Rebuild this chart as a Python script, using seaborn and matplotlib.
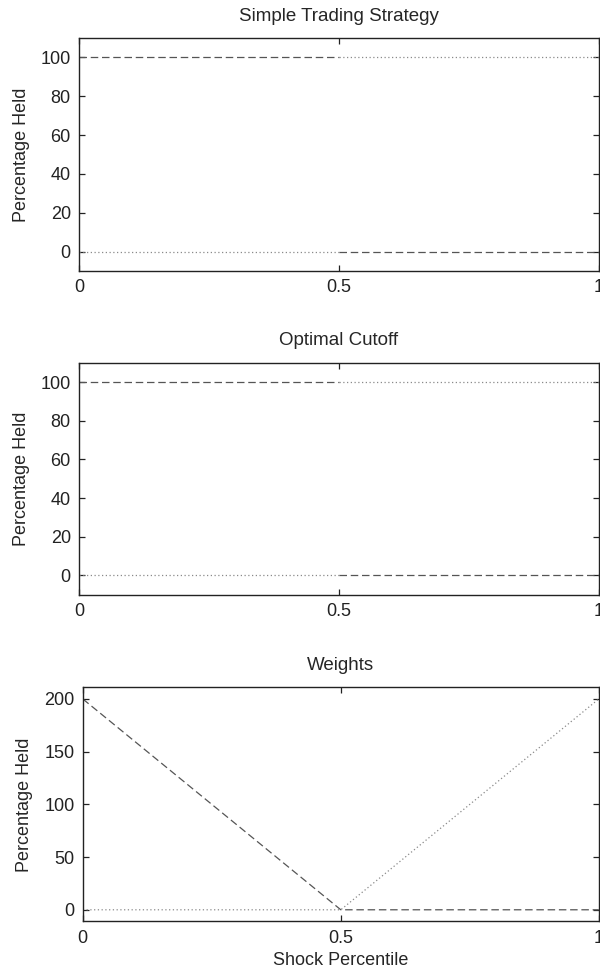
import matplotlib
matplotlib.use("Agg")
import matplotlib.pyplot as plt
import seaborn as sns
import pandas as pd
import numpy as np

# ---- data ----
shock = [0.0, 0.5, 0.5, 1.0]
segment = [0, 0, 1, 1]
simple_dashed = [100, 100, 0, 0]
simple_dotted = [0, 0, 100, 100]
cutoff_dashed = [100, 100, 0, 0]
cutoff_dotted = [0, 0, 100, 100]
weights_x = [0.0, 0.5, 1.0]
weights_dashed = [200, 0, 0]
weights_dotted = [0, 0, 200]

titles = ["Simple Trading Strategy", "Optimal Cutoff", "Weights"]
ylabel = "Percentage Held"
xlabel = "Shock Percentile"
xticks = [0, 0.5, 1]
xticklabels = ["0", "0.5", "1"]
yticks_top = [0, 20, 40, 60, 80, 100]
yticks_bottom = [0, 50, 100, 150, 200]

sns.set_style("ticks")
plt.rcParams["font.family"] = ["Liberation Sans", "DejaVu Sans"]
plt.rcParams["axes.linewidth"] = 1.0

fig = plt.figure(figsize=(6, 9.75), dpi=100)
positions = [
    [0.132, 0.722, 0.866, 0.239],
    [0.132, 0.390, 0.866, 0.238],
    [0.138, 0.055, 0.860, 0.240],
]

dash_kw = dict(color="#555555", linewidth=0.9, dashes=(6, 3))
dot_kw = dict(color="#8a8a8a", linewidth=0.9, dashes=(1, 2))

def seg_df(xs, ys, segs):
    return pd.DataFrame({"x": xs, "y": ys, "seg": segs})

FS = 13
for i in range(3):
    ax = fig.add_axes(positions[i])
    if i < 2:
        dashed = simple_dashed if i == 0 else cutoff_dashed
        dotted = simple_dotted if i == 0 else cutoff_dotted
        d1 = seg_df(shock, dashed, segment)
        d2 = seg_df(shock, dotted, segment)
        for s in sorted(set(segment)):
            sub1 = d1[d1.seg == s]
            sub2 = d2[d2.seg == s]
            sns.lineplot(data=sub2, x="x", y="y", ax=ax, estimator=None, sort=False)
            ax.lines[-1].set(color=dot_kw["color"], linewidth=dot_kw["linewidth"], dashes=dot_kw["dashes"])
            sns.lineplot(data=sub1, x="x", y="y", ax=ax, estimator=None, sort=False)
            ax.lines[-1].set(color=dash_kw["color"], linewidth=dash_kw["linewidth"], dashes=dash_kw["dashes"])
        ax.set_ylim(-10, 110)
        ax.set_yticks(yticks_top)
        ax.set_xlabel("")
    else:
        d1 = pd.DataFrame({"x": weights_x, "y": weights_dashed})
        d2 = pd.DataFrame({"x": weights_x, "y": weights_dotted})
        sns.lineplot(data=d2, x="x", y="y", ax=ax, estimator=None, sort=False)
        ax.lines[-1].set(color=dot_kw["color"], linewidth=dot_kw["linewidth"], dashes=dot_kw["dashes"])
        sns.lineplot(data=d1, x="x", y="y", ax=ax, estimator=None, sort=False)
        ax.lines[-1].set(color=dash_kw["color"], linewidth=dash_kw["linewidth"], dashes=dash_kw["dashes"])
        ax.set_ylim(-11, 211)
        ax.set_yticks(yticks_bottom)
        ax.set_xlabel(xlabel, fontsize=FS, labelpad=4)
    ax.set_xlim(0, 1)
    ax.set_xticks(xticks)
    ax.set_xticklabels(xticklabels)
    ax.set_ylabel(ylabel, fontsize=FS, labelpad=8)
    ax.set_title(titles[i], fontsize=13.5, pad=12.5)
    for sp in ax.spines.values():
        sp.set_visible(True)
        sp.set_color("#222222")
    ax.tick_params(direction="in", length=4, width=0.9, top=True, right=True,
                   labelsize=FS, colors="#222222", pad=6)

fig.savefig("out.png", dpi=100)
